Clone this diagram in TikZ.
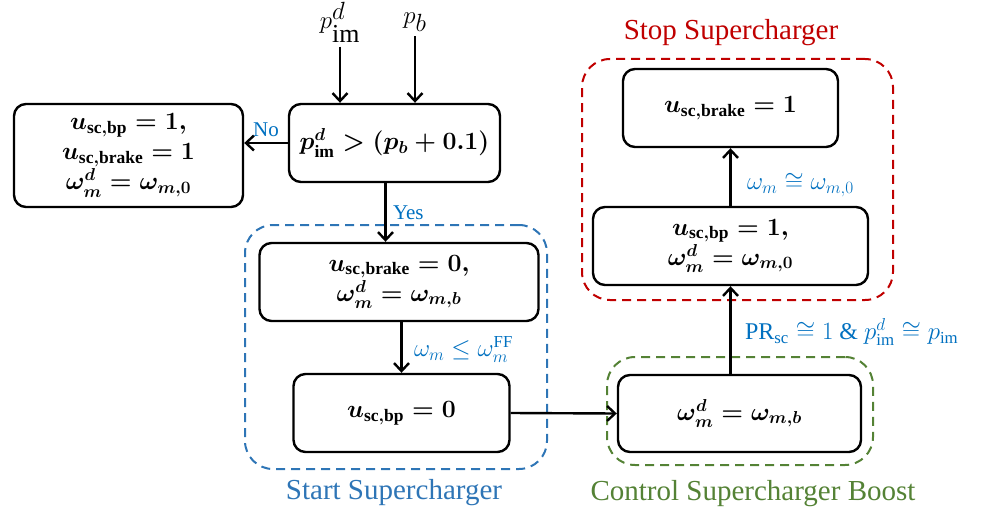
\documentclass[tikz,border=0pt]{standalone}
\usepackage{amsmath,amssymb}
\usepackage{fontspec}
\setmainfont{Liberation Serif}
\usetikzlibrary{positioning,arrows.meta,fit}
\definecolor{lblue}{RGB}{0,112,192}
\definecolor{gblue}{RGB}{46,117,182}
\definecolor{gred}{RGB}{192,0,0}
\definecolor{ggreen}{RGB}{84,130,53}

\begin{document}
\begin{tikzpicture}[x=1pt, y=-1pt,
  blk/.style={draw, line width=2.4pt, rounded corners=12pt, align=center, inner sep=0pt,
    font=\fontsize{25}{30}\selectfont\boldmath},
  lab/.style={font=\fontsize{21}{24}\selectfont, text=lblue},
  mlab/.style={lab, font=\fontsize{24}{26}\selectfont},
  grp/.style={draw=#1, dash pattern=on 9pt off 6pt, line width=2pt, rounded corners=28pt, inner sep=0pt},
  ttl/.style={font=\fontsize{29}{34}\selectfont, text=#1},
  >={Straight Barb[length=8pt,width=15pt]}, line width=2.4pt]
\useasboundingbox (0,0) rectangle (981,516);
% inputs and decision
\node[font=\fontsize{37}{40}\selectfont] (pim) at (340,22) {$p^d_{\mathrm{im}}$};
\node[font=\fontsize{37}{40}\selectfont] (pb) at (415,22) {$p_b$};
\node[blk, minimum width=211pt, minimum height=78pt] (dec) at (394.5,143) {$p^d_{\mathrm{im}} > (p_b+0.1)$};
\node[blk, minimum width=229pt, minimum height=103pt] (no) at (128.5,155.5)
  {$u_{\mathrm{sc,bp}}=1,$\\ $u_{\mathrm{sc,brake}}=1$\\ $\omega^d_m=\omega_{m,0}$};
% start supercharger
\node[blk, minimum width=279pt, minimum height=78pt] (st1) at (399,282) {$u_{\mathrm{sc,brake}}=0,$\\ $\omega^d_m=\omega_{m,b}$};
\node[blk, minimum width=216pt, minimum height=78pt] (st2) at (401.5,413) {$u_{\mathrm{sc,bp}}=0$};
% boost control
\node[blk, minimum width=243pt, minimum height=77pt] (ctl) at (739.5,413.5) {$\omega^d_m=\omega_{m,b}$};
% stop supercharger
\node[blk, minimum width=275pt, minimum height=78pt] (bp) at (730.5,246) {$u_{\mathrm{sc,bp}}=1,$\\ $\omega^d_m=\omega_{m,0}$};
\node[blk, minimum width=215pt, minimum height=78pt] (br) at (730.5,108) {$u_{\mathrm{sc,brake}}=1$};

\node[grp=gblue, fit={(245,225) (547,469)}] (start) {};
\node[grp=ggreen, fit={(607,357) (873,465)}] (boost) {};
\node[grp=gred, fit={(582,59) (893,300)}] (stop) {};
\node[ttl=gblue] (start-t) at (394,493) {Start Supercharger};
\node[ttl=ggreen] (boost-t) at (753,494) {Control Supercharger Boost};
\node[ttl=gred] (stop-t) at (731,33) {Stop Supercharger};

\draw[->] (pim.south) -- (pim.south |- dec.north);
\draw[->] (pb.south) -- (pb.south |- dec.north);
\draw[->] (dec.west) -- (dec.west -| no.east) node[lab, midway, above=2pt] {No};
\draw[->] ([xshift=-9pt]dec.south) -- ([xshift=-9pt]dec.south |- st1.north) node[lab, midway, right=3pt] {Yes};
\draw[->] (st1.south -| st2) -- (st2) node[mlab, midway, right=8pt, yshift=-2pt] {$\omega_m \le \omega_m^{\mathrm{FF}}$};
\draw[->] (st2.east) -- (ctl.west);
\draw[->] (bp |- ctl.north) -- (bp.south) node[mlab, midway, right=10pt, yshift=-2pt] {$\mathrm{PR}_{\mathrm{sc}} \cong 1$ \& $p^d_{\mathrm{im}} \cong p_{\mathrm{im}}$};
\draw[->] (bp) -- (br) node[mlab, midway, right=12pt, yshift=-8pt] {$\omega_m \cong \omega_{m,0}$};
\end{tikzpicture}
\end{document}
